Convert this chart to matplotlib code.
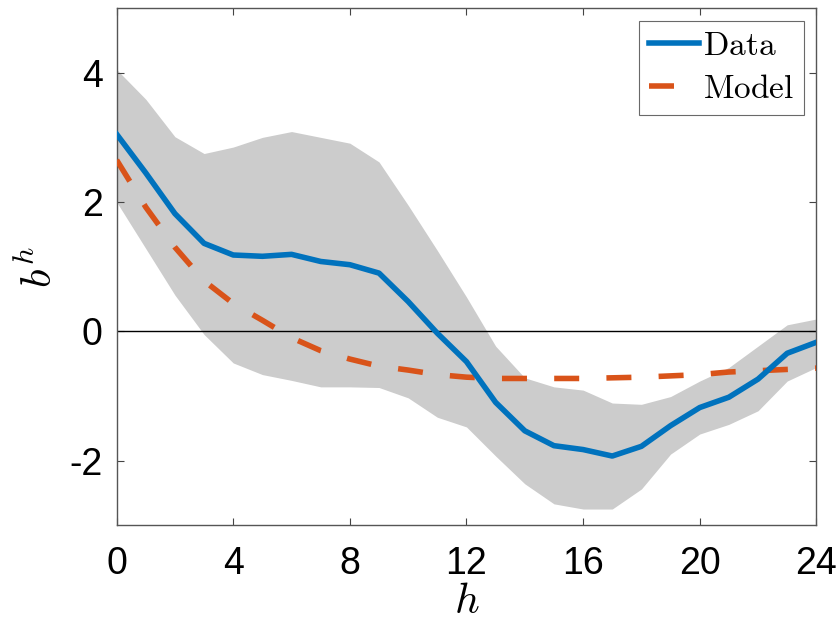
import numpy as np
import matplotlib
matplotlib.use('Agg')
import matplotlib.pyplot as plt

plt.rcParams['font.family'] = ['Liberation Sans', 'DejaVu Sans']
plt.rcParams['mathtext.fontset'] = 'cm'
plt.rcParams['axes.unicode_minus'] = False

# horizon
h = np.arange(0, 25)

# estimated response (Data) and confidence band
data = [3.05, 2.45, 1.82, 1.36, 1.18, 1.16, 1.19, 1.08, 1.03, 0.90, 0.46,
        -0.03, -0.47, -1.10, -1.54, -1.77, -1.83, -1.93, -1.78, -1.46, -1.18,
        -1.02, -0.74, -0.34, -0.17]
upper = [4.05, 3.59, 3.01, 2.75, 2.85, 3.00, 3.09, 3.00, 2.91, 2.62, 1.95,
         1.25, 0.53, -0.23, -0.72, -0.86, -0.91, -1.11, -1.13, -1.01, -0.77,
         -0.56, -0.23, 0.10, 0.19]
lower = [2.00, 1.28, 0.56, -0.05, -0.49, -0.67, -0.76, -0.86, -0.86, -0.87, -1.03,
         -1.33, -1.48, -1.93, -2.36, -2.67, -2.75, -2.75, -2.44, -1.90, -1.59,
         -1.44, -1.23, -0.77, -0.56]

# model implied response
model = [2.65, 1.92, 1.30, 0.78, 0.43, 0.17, -0.10, -0.30, -0.43, -0.54, -0.60,
         -0.67, -0.71, -0.73, -0.73, -0.73, -0.73, -0.72, -0.71, -0.69, -0.67,
         -0.63, -0.61, -0.59, -0.57]

fig = plt.figure(figsize=(8.39, 6.23), dpi=100)
ax = fig.add_axes([0.139, 0.157, 0.834, 0.830])

ax.fill_between(h, lower, upper, color='#cccccc', linewidth=0, zorder=1)
ax.axhline(0, color='black', linewidth=1.0, zorder=2)
ax.plot(h, data, color='#0072BD', linewidth=4, label=r'$\mathrm{Data}$', zorder=4)
ax.plot(h, model, color='#D95319', linewidth=4, linestyle=(0, (4.5, 4.9)),
        dash_capstyle='butt', label=r'$\mathrm{Model}$', zorder=3)

ax.set_xlim(0, 24)
ax.set_ylim(-3, 5)
ax.set_xticks(range(0, 25, 4))
ax.set_yticks([-2, 0, 2, 4])
ax.tick_params(direction='in', length=5, width=0.8, color='#444444',
               labelsize=27, top=True, right=True)
ax.tick_params(axis='x', pad=15)
ax.tick_params(axis='y', pad=10)
for s in ax.spines.values():
    s.set_color('#555555')
    s.set_linewidth(1.0)

ax.set_xlabel(r'$h$', fontsize=31, labelpad=0)
ax.set_ylabel(r'$b^h$', fontsize=31, labelpad=6)

leg = ax.legend(loc='upper right', fontsize=24, frameon=True, fancybox=False,
                edgecolor='#444444', handlelength=1.5, handletextpad=0.12,
                borderpad=0.3, labelspacing=0.36, borderaxespad=0.38)
leg.get_frame().set_linewidth(0.8)

fig.savefig('out.png', dpi=100)
